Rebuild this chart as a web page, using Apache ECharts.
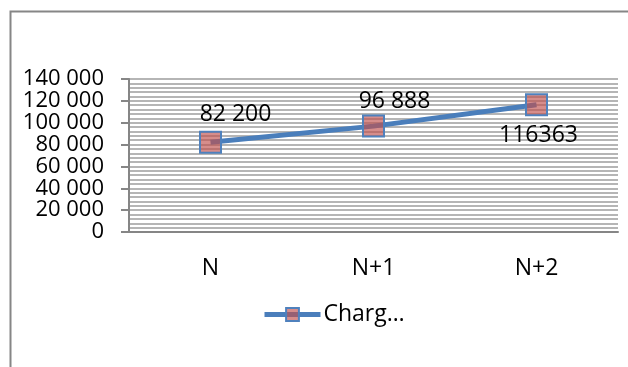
<!DOCTYPE html>
<html><head><meta charset="utf-8">
<script src="https://cdn.jsdelivr.net/npm/echarts@6/dist/echarts.min.js"></script>
<style>html,body{margin:0;padding:0;background:#fff}#c{width:628px;height:367px}</style>
</head><body><div id="c"></div>
<script>
const categories = ['N', 'N+1', 'N+2'];
const seriesName = 'Charg…';
const values = [82200, 96888, 116363];
const valueLabels = ['82 200', '96 888', '116363'];
const yTickLabels = ['0', '20 000', '40 000', '60 000', '80 000', '100 000', '120 000', '140 000'];
const labelOffsets = [[25, 0], [21, 3], [2, 3]];
const labelPositions = ['top', 'top', 'bottom'];

const font = '"Open Sans", "Noto Sans", sans-serif';
const fs = 23;
const chart = echarts.init(document.getElementById('c'), null, {renderer: 'canvas'});
chart.setOption({
  animation: false,
  backgroundColor: '#fff',
  graphic: [{
    type: 'rect', left: 8, top: 9, z: 100,
    shape: {x: 0, y: 0, width: 700, height: 500},
    style: {fill: 'none', stroke: '#868686', lineWidth: 2}
  }],
  grid: {left: 129, top: 79, right: 10, bottom: 135, containLabel: false},
  xAxis: {
    type: 'category', data: categories, boundaryGap: true,
    axisLine: {lineStyle: {color: '#868686', width: 2}},
    axisTick: {show: false},
    axisLabel: {color: '#000', fontSize: fs, fontFamily: font, margin: 25},
    splitLine: {show: false}
  },
  yAxis: {
    type: 'value', min: 0, max: 140000, interval: 20000,
    axisLine: {show: true, lineStyle: {color: '#868686', width: 2}},
    axisTick: {show: true, length: 8, lineStyle: {color: '#868686', width: 2}},
    axisLabel: {color: '#000', fontSize: 22, fontFamily: font, margin: 25,
      formatter: (v, i) => yTickLabels[i]},
    splitLine: {show: true, lineStyle: {color: '#b5b5b5', width: 2}},
    minorTick: {show: false, splitNumber: 5},
    minorSplitLine: {show: true, lineStyle: {color: '#b5b5b5', width: 2}}
  },
  legend: {
    show: true, bottom: 41, left: 262, padding: 0,
    itemWidth: 56, itemHeight: 16, itemGap: 4,
    lineStyle: {width: 5},
    textStyle: {color: '#000', fontSize: fs, fontFamily: font, padding: [0, 0, 0, -2]},
    data: [seriesName]
  },
  series: [{
    name: seriesName, type: 'line',
    data: values.map((v, i) => ({
      value: v,
      label: {position: labelPositions[i], offset: labelOffsets[i]}
    })),
    symbol: 'rect', symbolSize: 21,
    lineStyle: {color: '#4a7ebb', width: 5},
    itemStyle: {color: 'rgba(192,80,77,0.65)', borderColor: '#4f81bd', borderWidth: 2},
    label: {show: true, color: '#000', fontSize: fs, fontFamily: font,
      formatter: p => valueLabels[p.dataIndex]},
    z: 5
  }]
});
</script></body></html>
